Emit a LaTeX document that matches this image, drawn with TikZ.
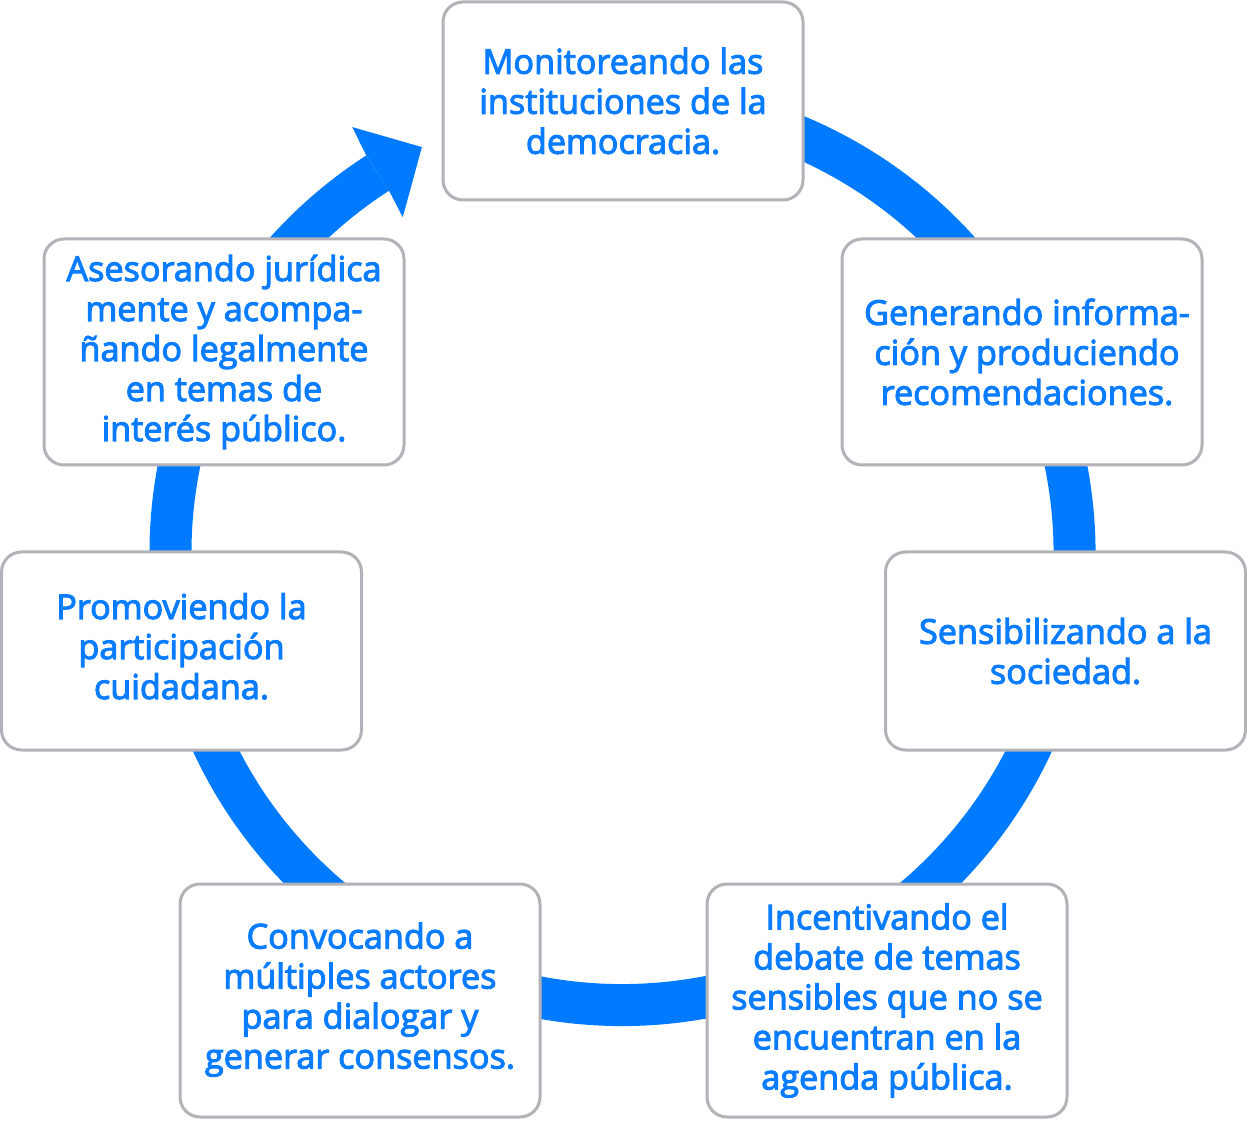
\documentclass[tikz,border=0pt]{standalone}
\usepackage{fontspec}
\setmainfont{Open Sans}
\newfontfamily\lblfont{Open Sans}[FakeBold=3]
\usetikzlibrary{calc}
\definecolor{ringblue}{RGB}{0,123,255}
\definecolor{txtblue}{RGB}{10,124,255}
\definecolor{boxgray}{RGB}{178,178,184}
\tikzset{
  stepbox/.style={draw=boxgray, line width=3pt, fill=white, rounded corners=20pt,
    minimum width=360pt, inner sep=0pt, align=center, text=txtblue,
    font=\lblfont\fontsize{34.2}{40}\selectfont},
}
\begin{document}
\begin{tikzpicture}[x=1pt,y=1pt]
\useasboundingbox (0,0) rectangle (1247,1120);
\coordinate (c) at (622.5,567);
% ring
\draw[ringblue, line width=42pt] ($(c)+(100:452)$) arc[start angle=100, end angle=-237.2, radius=452];
% arrow head
\fill[ringblue] ($(c)+(122.8:473)$) -- ($(c)+(122.4:504.5)$) -- ($(c)+(116.3:452.8)$) -- ($(c)+(123.2:401.3)$) -- ($(c)+(122.8:431)$) -- cycle;
% boxes
\node[stepbox, minimum height=198pt] (b1) at (623,1019) {Monitoreando las\\instituciones de la\\democracia.};
\node[stepbox, minimum height=226pt] (b2) at (1022,768) {\hspace*{10pt}Generando informa-\\\hspace*{10pt}ción y produciendo\\\hspace*{10pt}recomendaciones.};
\node[stepbox, minimum height=198pt] (b3) at (1065.5,469) {Sensibilizando a la\\sociedad.};
\node[stepbox, minimum height=233pt] (b4) at (887,119.5) {Incentivando el\\debate de temas\\sensibles que no se\\encuentran en la\\agenda pública.};
\node[stepbox, minimum height=233pt] (b5) at (360,119.5) {\raisebox{2pt}{\begin{tabular}{@{}c@{}}Convocando a\\múltiples actores\\para dialogar y\\generar consensos.\end{tabular}}};
\node[stepbox, minimum height=198pt] (b6) at (181.5,469) {\raisebox{4pt}{\begin{tabular}{@{}c@{}}Promoviendo la\\participación\\cuidadana.\end{tabular}}};
\node[stepbox, minimum height=226pt] (b7) at (224,768) {Asesorando jurídica\\mente y acompa-\\ñando legalmente\\en temas de\\interés público.};
\end{tikzpicture}
\end{document}
